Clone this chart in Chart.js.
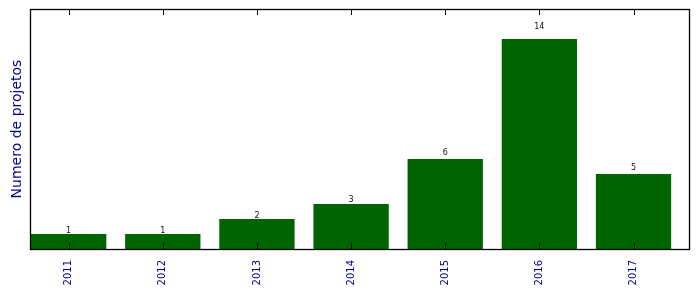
<!DOCTYPE html>
<html>
<head>
<meta charset="utf-8">
<script src="https://cdn.jsdelivr.net/npm/chart.js@4/dist/chart.umd.min.js"></script>
<style>
  html, body { margin: 0; padding: 0; background: #fff; }
  #wrap { width: 699px; height: 293px; position: relative; }
</style>
</head>
<body>
<div id="wrap"><canvas id="chart"></canvas></div>
<script>
  // data
  var years = ['2011', '2012', '2013', '2014', '2015', '2016', '2017'];
  var projects = [1, 1, 2, 3, 6, 14, 5];
  var yTitle = 'Numero de projetos';

  var barColor = '#006400';
  var labelColor = '#00008b';

  // matplotlib-like frame, inward ticks and value labels
  var framePlugin = {
    id: 'frame',
    afterDatasetsDraw: function (chart) {
      var ctx = chart.ctx, ca = chart.chartArea;
      var xs = chart.scales.x, ys = chart.scales.y;
      ctx.save();
      ctx.strokeStyle = '#000';
      ctx.lineWidth = 1;
      // tick marks top and bottom, pointing in
      years.forEach(function (_, i) {
        var px = Math.round(xs.getPixelForValue(i)) + 0.5;
        ctx.beginPath();
        ctx.moveTo(px, ca.bottom); ctx.lineTo(px, ca.bottom - 6);
        ctx.moveTo(px, ca.top); ctx.lineTo(px, ca.top + 6);
        ctx.stroke();
      });
      ctx.lineWidth = 1.3;
      ctx.strokeRect(ca.left - 0.5, ca.top + 0.5, ca.right - ca.left, ca.bottom - ca.top);

      // value labels at 1.05 * height, like ax.text(x, 1.05*h, ...)
      ctx.fillStyle = '#111';
      ctx.font = '8px "DejaVu Sans"';
      ctx.textAlign = 'center';
      ctx.textBaseline = 'alphabetic';
      projects.forEach(function (v, i) {
        ctx.fillText(String(v), xs.getPixelForValue(i), ys.getPixelForValue(v * 1.05));
      });
      ctx.restore();
    }
  };

  new Chart(document.getElementById('chart'), {
    type: 'bar',
    data: {
      datasets: [{
        data: projects.map(function (v, i) { return { x: i, y: v }; }),
        backgroundColor: barColor,
        borderWidth: 0,
        categoryPercentage: 1,
        barPercentage: 0.8
      }]
    },
    options: {
      responsive: true,
      maintainAspectRatio: false,
      animation: false,
      layout: { padding: { left: 0, right: 9, top: 9, bottom: 0 } },
      plugins: { legend: { display: false }, tooltip: { enabled: false } },
      scales: {
        x: {
          type: 'linear',
          offset: false,
          min: -0.4,
          max: 6.6,
          afterBuildTicks: function (s) {
            s.ticks = years.map(function (_, i) { return { value: i }; });
          },
          afterFit: function (s) { s.height = 44; },
          grid: { display: false, offset: false },
          border: { display: false },
          ticks: {
            autoSkip: false,
            minRotation: 90,
            maxRotation: 90,
            padding: 3,
            color: labelColor,
            font: { family: 'DejaVu Sans', size: 10 },
            callback: function (v) { return years[v]; }
          }
        },
        y: {
          min: 0,
          max: 16,
          afterFit: function (s) { s.width = 31; },
          grid: { display: false },
          border: { display: false },
          ticks: { display: false },
          title: {
            display: true,
            text: yTitle,
            color: labelColor,
            padding: { top: 9, bottom: 0 },
            font: { family: 'DejaVu Sans', size: 14, weight: 'normal' }
          }
        }
      }
    },
    plugins: [framePlugin]
  });
</script>
</body>
</html>
